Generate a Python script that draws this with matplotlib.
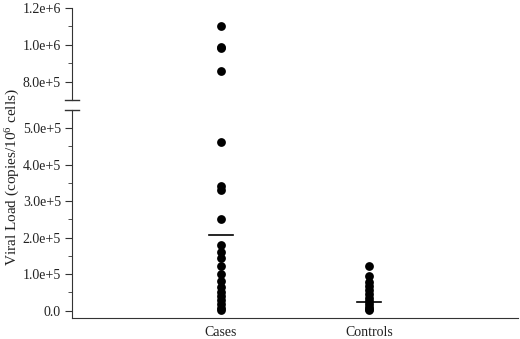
import matplotlib
matplotlib.use("Agg")
import matplotlib.pyplot as plt
from matplotlib.ticker import MultipleLocator, FuncFormatter

categories = ["Cases", "Controls"]
cases = [1.10e6, 0.99e6, 0.98e6, 0.86e6, 4.62e5, 3.42e5, 3.31e5, 2.51e5,
         1.80e5, 1.62e5, 1.45e5, 1.22e5, 1.00e5, 0.82e5, 0.66e5, 0.52e5,
         0.40e5, 0.28e5, 0.17e5, 0.08e5, 0.03e5]
controls = [1.22e5, 0.95e5, 0.80e5, 0.68e5, 0.56e5, 0.45e5, 0.35e5,
            0.26e5, 0.17e5, 0.10e5, 0.05e5, 0.02e5]
center_lines = [2.08e5, 0.23e5]

plt.rcParams['font.family'] = ['Liberation Serif', 'DejaVu Serif']
plt.rcParams['mathtext.fontset'] = 'custom'
plt.rcParams['mathtext.rm'] = 'Liberation Serif'
plt.rcParams['mathtext.it'] = 'Liberation Serif:italic'
col = '#333333'

fig = plt.figure(figsize=(5.2, 3.39), dpi=100)
left, right = 72/520, 518/520
ax_hi = fig.add_axes([left, (339-100)/339, right-left, (100-8)/339])
ax_lo = fig.add_axes([left, (339-318)/339, right-left, (318-110)/339])

def fmt(v, pos):
    if v == 0:
        return "0.0"
    s = "%.1e" % v
    m, e = s.split("e")
    return "%se+%d" % (m, int(e))

for ax in (ax_hi, ax_lo):
    for i, vals in enumerate([cases, controls]):
        ax.scatter([i + 1] * len(vals), vals, s=40, color='black', zorder=3,
                   linewidths=0)
        ax.plot([i + 1 - 0.08, i + 1 + 0.08], [center_lines[i]] * 2,
                color='black', lw=1.2, zorder=4)
    ax.set_xlim(0, 3)
    for sp in ('top', 'right'):
        ax.spines[sp].set_visible(False)
    ax.spines['left'].set_color(col)
    ax.spines['bottom'].set_color(col)
    ax.yaxis.set_major_formatter(FuncFormatter(fmt))
    ax.tick_params(axis='y', which='major', length=5, color=col, labelsize=10,
                   labelcolor='#222222', pad=3)
    ax.tick_params(axis='y', which='minor', length=3, color=col)

ax_hi.set_ylim(7e5, 1.2e6)
ax_hi.yaxis.set_major_locator(MultipleLocator(2e5))
ax_hi.yaxis.set_minor_locator(MultipleLocator(1e5))
ax_hi.spines['bottom'].set_visible(False)
ax_hi.set_xticks([])

ax_lo.set_ylim(-2e4, 5.5e5)
ax_lo.yaxis.set_major_locator(MultipleLocator(1e5))
ax_lo.yaxis.set_minor_locator(MultipleLocator(5e4))
ax_lo.set_xticks([1, 2])
ax_lo.set_xticklabels(categories, fontsize=10, color='#222222')
ax_lo.tick_params(axis='x', length=0, pad=6)

# break marks
for ax, yv in ((ax_hi, 0), (ax_lo, 1)):
    ax.plot([-0.015, 0.015], [yv, yv], transform=ax.transAxes, color=col,
            lw=1.0, clip_on=False)

fig.text(0.024, (339-177)/339, "Viral Load (copies/10$^{6}$ cells)",
         rotation=90, ha='center', va='center', fontsize=11, color='#222222')

fig.savefig("out.png", dpi=100)
